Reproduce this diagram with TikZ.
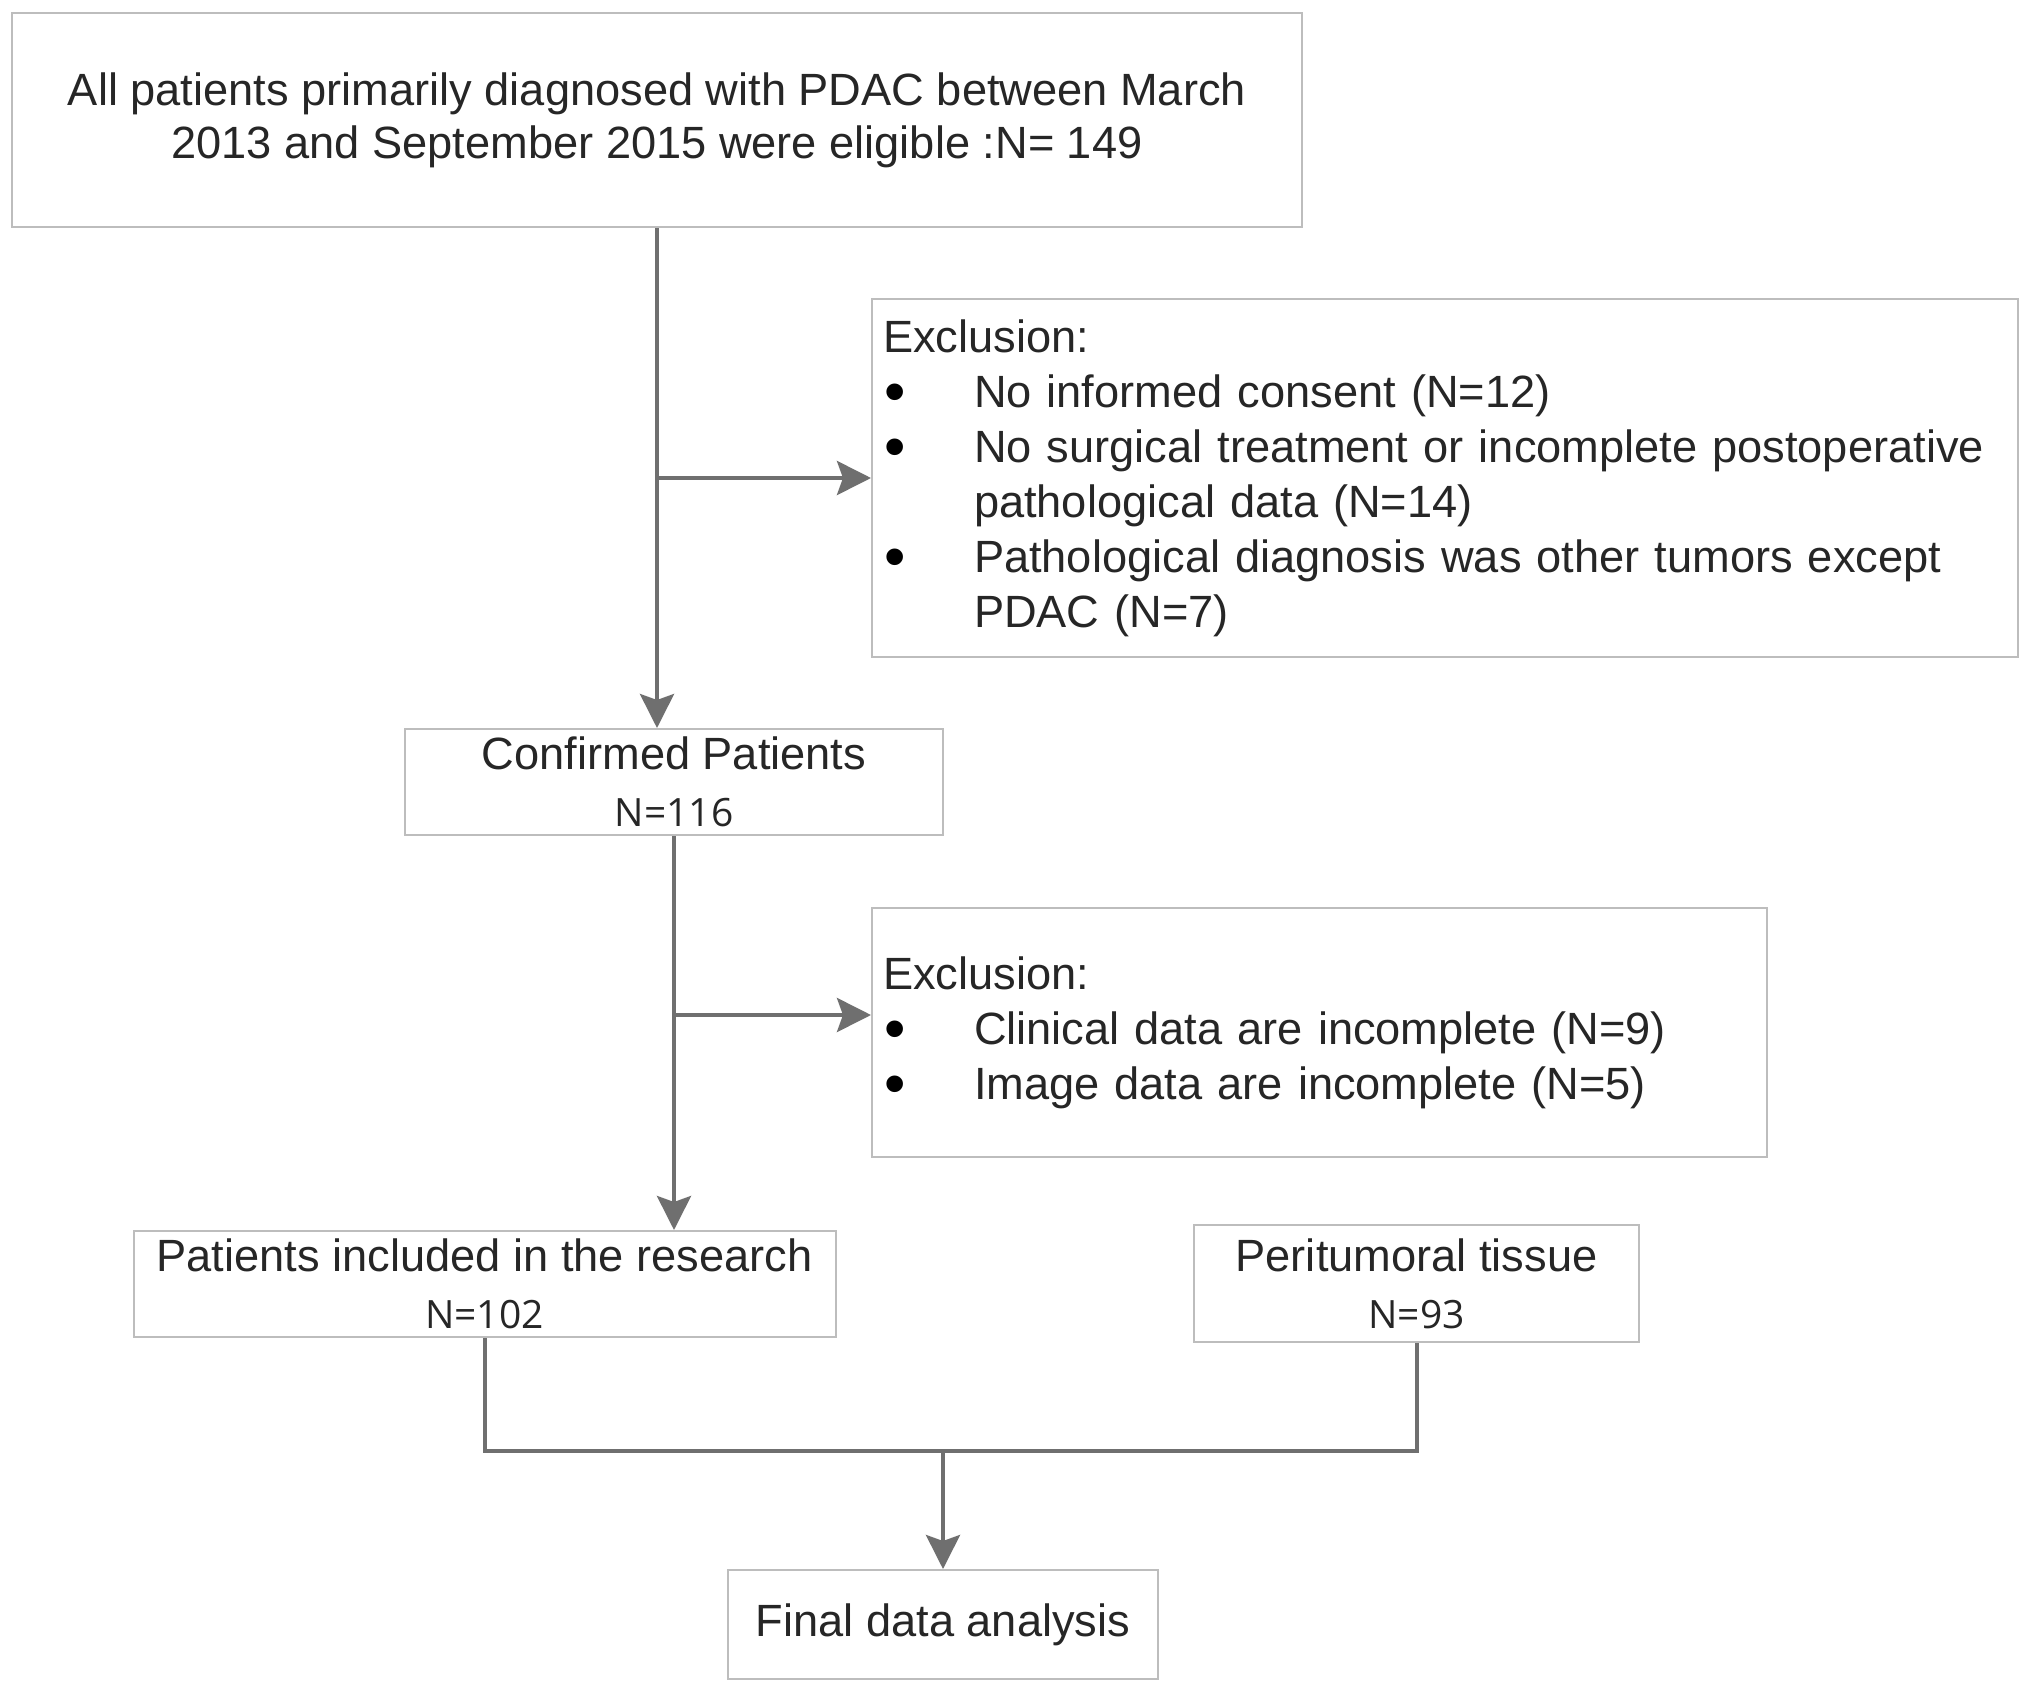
\documentclass[tikz,border=0pt]{standalone}
\usepackage{fontspec}
\setmainfont{Liberation Sans}
\newfontfamily\numfont{Open Sans}
\usetikzlibrary{arrows.meta,calc}
\definecolor{arrowgray}{HTML}{6F6F6F}
\definecolor{boxgray}{HTML}{BDBDBD}
\definecolor{txtgray}{HTML}{262626}
\newcommand{\bul}{\makebox[45.5pt][l]{\hspace*{0.5pt}\textcolor{black}{\raisebox{-2.6pt}{\scalebox{1.35}{\textbullet}}}}}
\newcommand{\ind}{\hspace*{45.5pt}}
\begin{document}
\begin{tikzpicture}[x=0.5pt,y=-0.5pt,
  box/.style={draw=boxgray,line width=1pt,rectangle,inner sep=0pt,text=txtgray,
    font=\fontsize{22.6}{26.5}\selectfont,align=center},
  exbox/.style={draw=boxgray,line width=1pt,rectangle,inner xsep=5.5pt,inner ysep=0pt,
    text=txtgray,font=\fontsize{22.6}{27.5}\selectfont,align=left},
  conn/.style={draw=arrowgray,line width=2pt},
  arr/.style={conn,-{Stealth[length=17pt,width=17pt,inset=3pt]}}]
\useasboundingbox (0,0) rectangle (2031,1691);
\fill[white] (0,0) rectangle (2031,1691);

\node[box,minimum width=645pt,minimum height=107pt] (top) at (657,120)
  {All patients primarily diagnosed with PDAC between March\\2013 and September 2015 were eligible :N= 149};

\node[exbox,text width=562pt,minimum height=179pt] (ex1) at (1445,478)
  {Exclusion:\\
   \bul No informed consent (N=12)\\
   \bul No surgical treatment or incomplete postoperative\\
   \ind pathological data (N=14)\\
   \bul Pathological diagnosis was other tumors except\\
   \ind PDAC (N=7)};

\node[box,minimum width=269pt,minimum height=53pt,font=\fontsize{22.6}{28.5}\selectfont] (conf) at (674,782)
  {Confirmed Patients\\{\numfont\fontsize{19.5}{28.5}\selectfont N=116}};

\node[exbox,text width=436.5pt,minimum height=124.5pt] (ex2) at (1319.5,1032.5)
  {Exclusion:\\
   \bul Clinical data are incomplete (N=9)\\
   \bul Image data are incomplete (N=5)};

\node[box,minimum width=351pt,minimum height=53pt,font=\fontsize{22.6}{28.5}\selectfont] (incl) at (484.5,1284)
  {Patients included in the research\\{\numfont\fontsize{19.5}{28.5}\selectfont N=102}};

\node[box,minimum width=222.5pt,minimum height=58.5pt,font=\fontsize{22.6}{28.5}\selectfont] (peri) at (1416.5,1283.5)
  {Peritumoral tissue\\{\numfont\fontsize{19.5}{28.5}\selectfont N=93}};

\node[box,minimum width=215pt,minimum height=54.5pt] (final) at (943,1624.5)
  {Final data analysis};

\coordinate (b1) at (top.south |- ex1.west);
\coordinate (b2) at (conf.south |- 0,1015);
\coordinate (m) at (final.north |- 0,1451);

\draw[arr] (top.south) -- (top.south |- conf.north);
\draw[arr] (b1) -- (ex1.west);
\draw[arr] (conf.south) -- (conf.south |- incl.north);
\draw[arr] (b2) -- (b2 -| ex2.west);
\draw[conn] (incl.south) -- (incl.south |- m) -- (peri.south |- m) -- (peri.south);
\draw[arr] (m) -- (final.north);
\end{tikzpicture}
\end{document}
